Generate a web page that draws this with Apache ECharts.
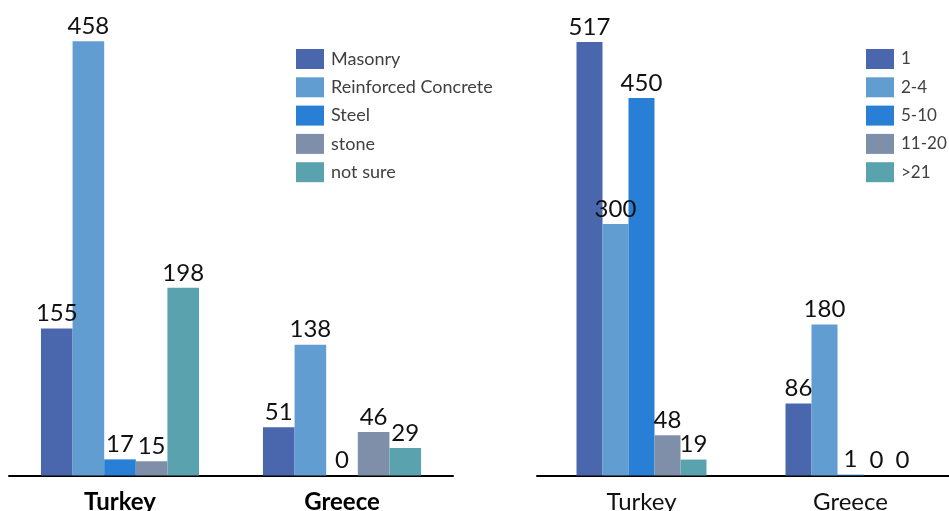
<!DOCTYPE html>
<html><head><meta charset="utf-8">
<script src="https://cdn.jsdelivr.net/npm/echarts@6/dist/echarts.min.js"></script>
<style>html,body{margin:0;padding:0;background:#fff;overflow:hidden}#c{width:949px;height:511px}</style>
</head><body><div id="c"></div>
<script>
const categories = ['Turkey', 'Greece'];
const leftNames = ['Masonry', 'Reinforced Concrete', 'Steel', 'stone', 'not sure'];
const masonry = [155, 51];
const reinforced = [458, 138];
const steel = [17, 0];
const stone = [15, 46];
const notSure = [198, 29];
const rightNames = ['1', '2-4', '5-10', '11-20', '>21'];
const s1 = [517, 86];
const s2to4 = [300, 180];
const s5to10 = [450, 1];
const s11to20 = [48, 0];
const s21plus = [19, 0];
const colors = ['#4A66AC', '#629DD1', '#297FD5', '#7F8FA9', '#5AA2AE'];

const leftData = [masonry, reinforced, steel, stone, notSure];
const rightData = [s1, s2to4, s5to10, s11to20, s21plus];
const FONT = 'Lato';
const labelCfg = {show: true, position: 'top', distance: 3, fontFamily: FONT, fontSize: 24, color: '#111'};

const series = [];
leftData.forEach((d, i) => series.push({
  type: 'bar', name: leftNames[i], xAxisIndex: 0, yAxisIndex: 0, data: d,
  itemStyle: {color: colors[i]}, barGap: '0%', barCategoryGap: '28.8%', label: labelCfg
}));
rightData.forEach((d, i) => series.push({
  type: 'bar', name: rightNames[i], xAxisIndex: 1, yAxisIndex: 1, data: d,
  itemStyle: {color: colors[i]}, barGap: '0%', barCategoryGap: '37.8%', label: labelCfg
}));

const legendBase = {orient: 'vertical', icon: 'rect', itemWidth: 28, itemHeight: 20, itemGap: 8.3,
  textStyle: {fontFamily: FONT, fontSize: 18, color: '#404040', padding: [0, 0, 0, 2]}, selectedMode: false};

const chart = echarts.init(document.getElementById('c'));
chart.setOption({
  animation: false,
  color: colors,
  legend: [
    Object.assign({}, legendBase, {left: 291, top: 44, data: leftNames}),
    Object.assign({}, legendBase, {left: 861, top: 44, data: rightNames,
      textStyle: {fontFamily: FONT, fontSize: 17, color: '#404040', padding: [0, 0, 0, 2]}})
  ],
  grid: [
    {left: 9, top: 1.5, width: 444, height: 474, containLabel: false, outerBoundsMode: 'none'},
    {left: 537, top: 0, width: 418, height: 475.5, containLabel: false, outerBoundsMode: 'none'}
  ],
  xAxis: [
    {type: 'category', gridIndex: 0, data: categories,
     axisLine: {lineStyle: {color: '#000', width: 2}}, axisTick: {show: false},
     axisLabel: {fontFamily: FONT, fontSize: 24, fontWeight: 'bold', color: '#000', margin: 15}},
    {type: 'category', gridIndex: 1, data: categories,
     axisLine: {lineStyle: {color: '#000', width: 2}}, axisTick: {show: false},
     axisLabel: {fontFamily: FONT, fontSize: 24, color: '#111', margin: 15}}
  ],
  yAxis: [
    {type: 'value', gridIndex: 0, min: 0, max: 500, show: false, splitLine: {show: false}},
    {type: 'value', gridIndex: 1, min: 0, max: 567, show: false, splitLine: {show: false}}
  ],
  series: series
});
</script></body></html>
